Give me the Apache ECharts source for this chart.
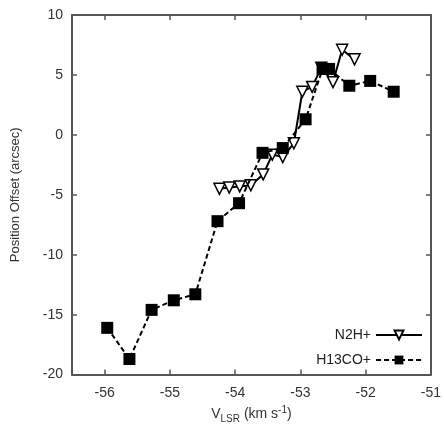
<!DOCTYPE html>
<html>
<head>
<meta charset="utf-8">
<script src="https://cdn.jsdelivr.net/npm/echarts@6/dist/echarts.min.js"></script>
<style>
  html, body { margin: 0; padding: 0; background: #fff; }
  #chart { width: 444px; height: 429px; }
</style>
</head>
<body>
<div id="chart"></div>
<script>
// N2H+ (open triangles, solid line)
var n2hX = [-54.24, -54.09, -53.93, -53.76, -53.57, -53.43, -53.27, -53.10, -52.97, -52.82, -52.68, -52.50, -52.36, -52.17];
var n2hY = [-4.5, -4.4, -4.3, -4.2, -3.3, -1.65, -1.85, -0.7, 3.6, 4.0, 5.6, 4.4, 7.1, 6.3];
// H13CO+ (filled squares, dashed line)
var hcoX = [-55.96, -55.62, -55.28, -54.94, -54.61, -54.27, -53.94, -53.58, -53.27, -52.92, -52.66, -52.56, -52.25, -51.93, -51.57];
var hcoY = [-16.1, -18.7, -14.6, -13.8, -13.3, -7.2, -5.7, -1.5, -1.1, 1.3, 5.5, 5.5, 4.1, 4.5, 3.6];
var xTicks = [-56, -55, -54, -53, -52, -51];

function pairs(xs, ys) {
    return xs.map(function (x, i) { return [x, ys[i]]; });
}

var font = 'Liberation Sans, Arial, sans-serif';
var axisColor = '#555';

var myChart = echarts.init(document.getElementById('chart'));

var xBase = {
    type: 'value',
    min: -56.5,
    max: -51,
    axisLine: { onZero: false, lineStyle: { color: axisColor, width: 2 } },
    axisTick: { inside: true, length: 5, customValues: xTicks, lineStyle: { color: axisColor, width: 1.5 } },
    splitLine: { show: false }
};
var yBase = {
    type: 'value',
    min: -20,
    max: 10,
    interval: 5,
    axisLine: { onZero: false, lineStyle: { color: axisColor, width: 2 } },
    axisTick: { inside: true, length: 5, lineStyle: { color: axisColor, width: 1.5 } },
    splitLine: { show: false }
};

var option = {
    animation: false,
    grid: { left: 72, right: 10, top: 15, bottom: 49 },
    textStyle: { fontFamily: font },
    xAxis: [
        Object.assign({}, xBase, {
            position: 'bottom',
            axisLabel: { customValues: xTicks, color: '#333', fontSize: 14, margin: 12, fontFamily: font },
            name: '{a|V}{sub|LSR}{a| (km s}{sup|-1}{a|)}',
            nameLocation: 'middle',
            nameGap: 28,
            nameTextStyle: {
                rich: {
                    a: { fontSize: 14, color: '#333', fontFamily: font, lineHeight: 18, verticalAlign: 'middle' },
                    sub: { fontSize: 10, color: '#333', fontFamily: font, padding: [9, 0, 0, 0], verticalAlign: 'middle' },
                    sup: { fontSize: 10, color: '#333', fontFamily: font, padding: [0, 0, 8, 0], verticalAlign: 'middle' }
                }
            }
        }),
        Object.assign({}, xBase, { position: 'top', axisLabel: { show: false } })
    ],
    yAxis: [
        Object.assign({}, yBase, {
            position: 'left',
            axisLabel: { color: '#333', fontSize: 14, margin: 9, fontFamily: font },
            name: 'Position Offset (arcsec)',
            nameLocation: 'middle',
            nameGap: 50,
            nameTextStyle: { fontSize: 13, color: '#333', fontFamily: font }
        }),
        Object.assign({}, yBase, { position: 'right', axisLabel: { show: false } })
    ],
    legend: {
        orient: 'vertical',
        right: 16,
        top: 323,
        align: 'right',
        itemWidth: 46,
        itemHeight: 11,
        itemGap: 11,
        textStyle: { fontSize: 14, color: '#222', fontFamily: font },
        data: ['N2H+', 'H13CO+']
    },
    series: [
        {
            name: 'N2H+',
            type: 'line',
            data: pairs(n2hX, n2hY),
            symbol: 'triangle',
            symbolRotate: 180,
            symbolSize: 11,
            lineStyle: { color: '#000', width: 2, type: 'solid' },
            itemStyle: { color: '#fff', borderColor: '#000', borderWidth: 1.5 },
            z: 2
        },
        {
            name: 'H13CO+',
            type: 'line',
            data: pairs(hcoX, hcoY),
            symbol: 'rect',
            symbolSize: 12,
            lineStyle: { color: '#000', width: 2, type: [5, 3] },
            itemStyle: { color: '#000', borderColor: '#000', borderWidth: 0 },
            z: 3
        }
    ]
};

myChart.setOption(option);
</script>
</body>
</html>
